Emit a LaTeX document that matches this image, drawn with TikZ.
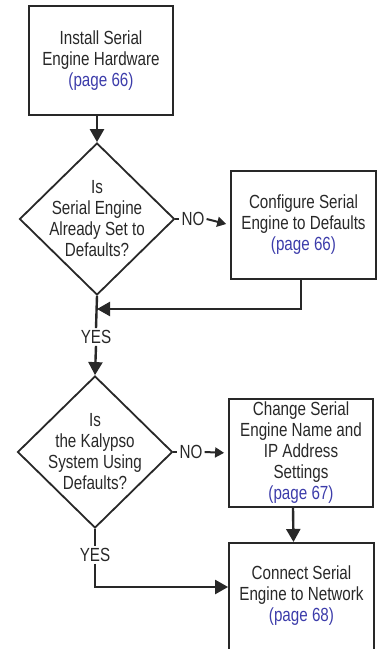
\documentclass[tikz,border=0pt]{standalone}
\usepackage{fontspec}
\setmainfont{Liberation Sans}[FakeStretch=0.8]
\usetikzlibrary{shapes.geometric, arrows.meta}

\definecolor{ink}{RGB}{40,40,40}
\definecolor{pagelink}{RGB}{60,60,170}
\newcommand{\seepage}[1]{{\color{pagelink}(page #1)}}

\tikzset{
  stepbox/.style={draw=ink, line width=1.8pt, rectangle, align=center, text=ink, inner sep=0pt},
  question/.style={draw=ink, line width=1.8pt, diamond, align=center, text=ink, inner sep=-15pt,
    minimum width=155pt, minimum height=152pt},
  answer/.style={text=ink, inner sep=2pt},
  link/.style={draw=ink, line width=2.4pt},
  flow/.style={link, -{Triangle[length=13pt,width=14pt]}},
  noflow/.style={draw=ink, line width=2pt, -{Triangle[length=9pt,width=10pt]}, shorten >=4pt}
}

\begin{document}
\begin{tikzpicture}[x=1pt, y=-1pt, font=\fontsize{19}{21}\selectfont]
\useasboundingbox (0,0) rectangle (377,649);

\node[stepbox, minimum width=144pt, minimum height=109pt] (install) at (101,60.5)
  {Install Serial\\Engine Hardware\\\seepage{66}};
\node[question] (isdef) at (97,219) {Is\\Serial Engine\\Already Set to\\Defaults?};
\node[stepbox, minimum width=145pt, minimum height=108pt] (config) at (303.5,225)
  {Configure Serial\\Engine to Defaults\\\seepage{66}};
\node[answer] (no1) at (193,219) {NO};
\node[answer] (yes1) at (96,337) {YES};

\node[question] (kalypso) at (95,452) {Is\\the Kalypso\\System Using\\Defaults?};
\node[stepbox, minimum width=144pt, minimum height=108pt] (change) at (301,453)
  {Change Serial\\Engine Name and\\IP Address\\Settings\\\seepage{67}};
\node[answer] (no2) at (191,452) {NO};
\node[answer] (yes2) at (95,555) {YES};
\node[stepbox, minimum width=145pt, inner ysep=23pt, anchor=north] (connect) at (301.5,542)
  {Connect Serial\\Engine to Network\\\seepage{68}\\~\\~};

% connectors
\draw[flow] (install.south -| isdef.north) -- (isdef.north);
\draw[link] (isdef.east) -- (no1.west);
\draw[noflow] (no1.east) -- (config.west);
\draw[flow] ([xshift=-2.5pt]config.south) |- (isdef.south |- 0,309);
\draw[link] (isdef.south) -- (yes1.north);
\draw[flow] (yes1.south) -- (kalypso.north);

\draw[link] (kalypso.east) -- (no2.west);
\draw[noflow] (no2.east) -- (change.west);
\draw[flow] ([xshift=-8pt]change.south) -- ([xshift=-8pt]connect.north);
\draw[link] (kalypso.south) -- (yes2.north);
\draw[flow] (yes2.south) |- (connect.west |- 0,587);
\end{tikzpicture}
\end{document}
